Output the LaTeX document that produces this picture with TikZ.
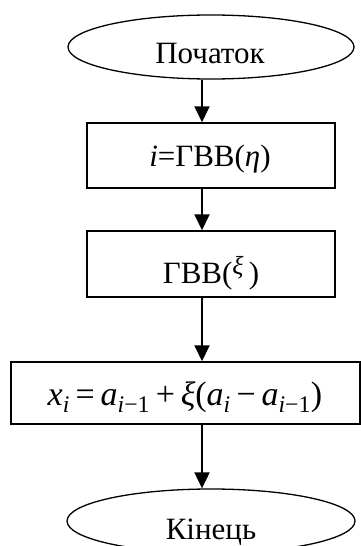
\documentclass[tikz,border=0pt]{standalone}
\usepackage{fontspec}
\setmainfont{Liberation Serif}
\usetikzlibrary{arrows.meta,shapes.geometric}
\newcommand\fsp{\hspace{0.17em}}
\begin{document}
\begin{tikzpicture}[x=1pt,y=-1pt,
  shp/.style={draw,line width=1.5pt,inner sep=0pt},
  ell/.style={shp,ellipse,line width=1.3pt},
  txt/.style={anchor=base,inner sep=0pt,font=\fontsize{31}{37}\selectfont},
  arr/.style={line width=2pt,-{Triangle[width=15pt,length=16pt]}}]
\useasboundingbox (0,0) rectangle (361,546);
\coordinate (ax) at (202,0);
% shapes
\node[ell,minimum width=286pt,minimum height=64pt] (start) at (211,47) {};
\node[shp,minimum width=248pt,minimum height=65pt] (r1) at (211,155.5) {};
\node[shp,minimum width=248pt,minimum height=66pt] (r2) at (211,264) {};
\node[shp,minimum width=349pt,minimum height=62pt] (r3) at (185.5,393) {};
\node[ell,minimum width=288pt,minimum height=64pt] (fin) at (211,521) {};
% texts
\node[txt] (startT) at (210,63) {Початок};
\node[txt] (r1T) at (210,166) {\textit{i}=ГВВ(\textit{η})};
\node[txt] (r2T) at (211,283) {ГВВ(\raisebox{9pt}{\fontsize{26}{30}\selectfont\textit{ξ}}\,)};
\node[txt,font=\fontsize{34}{40}\selectfont] (r3T) at (185,405) {\textit{x}\textsubscript{\textit{i}}\fsp=\fsp\textit{a}\textsubscript{\textit{i}−1}\fsp+\fsp\textit{ξ}(\textit{a}\textsubscript{\textit{i}}\fsp−\fsp\textit{a}\textsubscript{\textit{i}−1})};
\node[txt] (finT) at (211,539) {Кінець};
% connectors
\draw[arr] (start.south -| ax) -- (r1.north -| ax);
\draw[arr] (r1.south -| ax) -- (r2.north -| ax);
\draw[arr] (r2.south -| ax) -- (r3.north -| ax);
\draw[arr] (r3.south -| ax) -- (fin.north -| ax);
\end{tikzpicture}
\end{document}
